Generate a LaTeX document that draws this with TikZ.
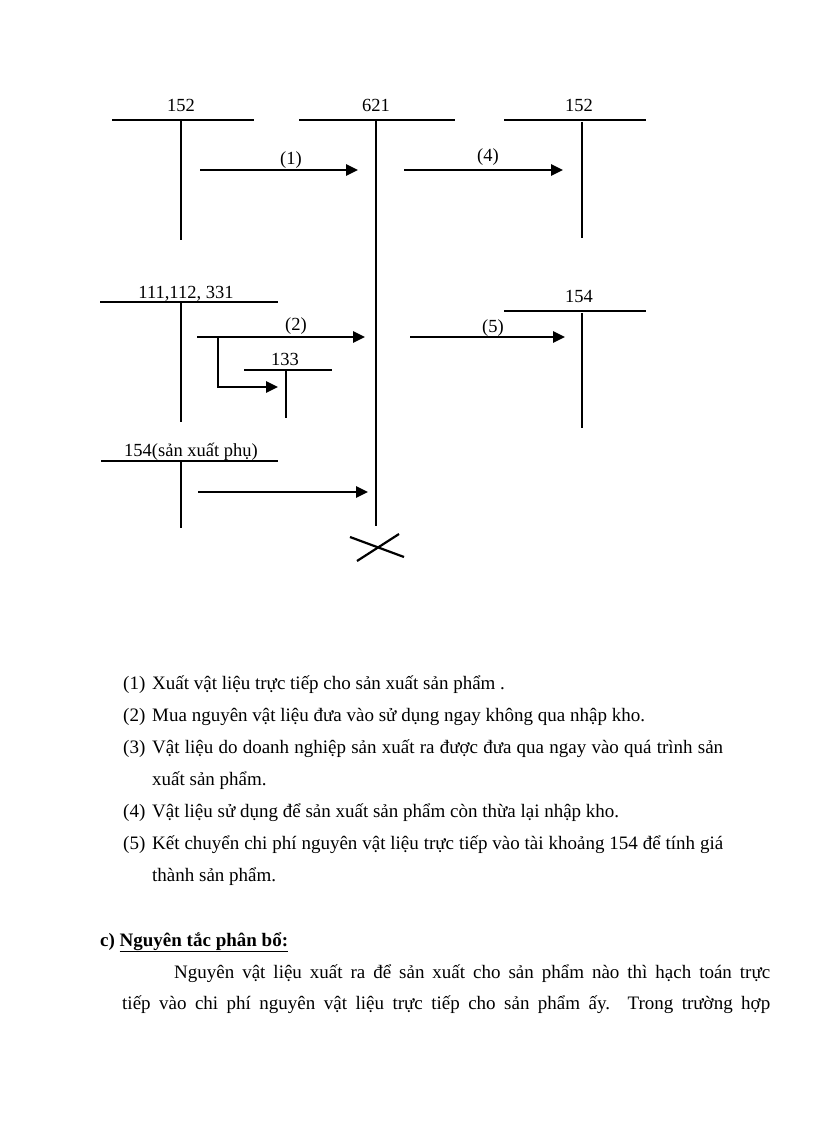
\documentclass[tikz,border=0pt]{standalone}
\usepackage{fontspec}
\setmainfont{Liberation Serif}
\usetikzlibrary{arrows.meta}
\begin{document}
\begin{tikzpicture}[x=1pt,y=-1pt,
  tline/.style={line width=2.6pt},
  flow/.style={line width=2.7pt,-{Triangle[length=12pt,width=11pt]}},
  acclbl/.style={anchor=base,inner sep=0pt,font=\fontsize{18.5}{22}\selectfont},
  body/.style={anchor=base west,inner sep=0pt,font=\fontsize{19}{23}\selectfont},
]
\useasboundingbox[fill=white] (0,0) rectangle (816,1123);

% ---- account 152 (left)
\node[acclbl] (l152) at (181,112) {152};
\coordinate (l152a) at (112,120); \coordinate (l152b) at (254,120);
\coordinate (l152t) at (181,120); \coordinate (l152e) at (181,240);
\draw[tline] (l152a) -- (l152b);
\draw[tline] (l152t) -- (l152e);

% ---- account 621
\node[acclbl] (k621) at (376,112) {621};
\coordinate (k621a) at (299,120); \coordinate (k621b) at (455,120);
\coordinate (k621t) at (376,120); \coordinate (k621e) at (376,526);
\draw[tline] (k621a) -- (k621b);
\draw[tline] (k621t) -- (k621e);

% ---- account 152 (right)
\node[acclbl] (r152) at (579,112) {152};
\coordinate (r152a) at (504,120); \coordinate (r152b) at (646,120);
\coordinate (r152t) at (582,122); \coordinate (r152e) at (582,238);
\draw[tline] (r152a) -- (r152b);
\draw[tline] (r152t) -- (r152e);

% ---- account 111,112,331
\node[acclbl] (cash) at (186,298) {111,112, 331};
\coordinate (casha) at (100,302); \coordinate (cashb) at (278,302);
\coordinate (casht) at (181,302); \coordinate (cashe) at (181,422);
\draw[tline] (casha) -- (cashb);
\draw[tline] (casht) -- (cashe);

% ---- account 133
\node[acclbl] (v133) at (285,365) {133};
\coordinate (v133a) at (244,370); \coordinate (v133b) at (332,370);
\coordinate (v133t) at (286,370); \coordinate (v133e) at (286,418);
\draw[tline] (v133a) -- (v133b);
\draw[tline] (v133t) -- (v133e);

% ---- account 154 (right)
\node[acclbl] (r154) at (579,302) {154};
\coordinate (r154a) at (504,311); \coordinate (r154b) at (646,311);
\coordinate (r154t) at (582,313); \coordinate (r154e) at (582,428);
\draw[tline] (r154a) -- (r154b);
\draw[tline] (r154t) -- (r154e);

% ---- account 154 (san xuat phu)
\node[acclbl] (s154) at (191,456) {154(sản xuất phụ)};
\coordinate (s154a) at (101,461); \coordinate (s154b) at (278,461);
\coordinate (s154t) at (181,461); \coordinate (s154e) at (181,528);
\draw[tline] (s154a) -- (s154b);
\draw[tline] (s154t) -- (s154e);

% ---- flows
\coordinate (f1s) at (200,170); \coordinate (f1e) at (358,170);
\draw[flow] (f1s) -- (f1e);
\node[acclbl] (n1) at (291,165) {(1)};

\coordinate (f4s) at (404,170); \coordinate (f4e) at (563,170);
\draw[flow] (f4s) -- (f4e);
\node[acclbl] (n4) at (488,162) {(4)};

\coordinate (f2s) at (197,337); \coordinate (f2e) at (365,337);
\draw[flow] (f2s) -- (f2e);
\node[acclbl] (n2) at (296,330) {(2)};

\coordinate (f2b) at (218,337); \coordinate (f2c) at (218,387); \coordinate (f2d) at (278,387);
\draw[flow] (f2b) -- (f2c) -- (f2d);

\coordinate (f5s) at (410,337); \coordinate (f5e) at (565,337);
\draw[flow] (f5s) -- (f5e);
\node[acclbl] (n5) at (493,332) {(5)};

\coordinate (f3s) at (198,492); \coordinate (f3e) at (368,492);
\draw[flow] (f3s) -- (f3e);

% ---- closing cross
\coordinate (xa) at (350,537); \coordinate (xb) at (404,557);
\coordinate (xc) at (357,561); \coordinate (xd) at (399,534);
\draw[line width=2.2pt] (xa) -- (xb);
\draw[line width=2.2pt] (xc) -- (xd);

% ---- explanation list
\node[body] (i1) at (123,689) {(1)};
\node[body] (t1) at (152,689) {Xuất vật liệu  trực tiếp cho sản xuất sản phẩm .};
\node[body] (i2) at (123,721) {(2)};
\node[body] (t2) at (152,721) {Mua nguyên vật liệu  đưa vào sử dụng ngay không qua nhập kho.};
\node[body] (i3) at (123,753) {(3)};
\node[body] (t3) at (152,753) {\makebox[571pt][s]{Vật liệu  do doanh nghiệp sản xuất ra được đưa qua ngay vào quá trình sản}};
\node[body] (t3b) at (152,785) {xuất  sản phẩm.};
\node[body] (i4) at (123,817) {(4)};
\node[body] (t4) at (152,817) {Vật liệu  sử dụng để sản xuất  sản phẩm còn thừa lại nhập kho.};
\node[body] (i5) at (123,849) {(5)};
\node[body] (t5) at (152,849) {\makebox[571pt][s]{Kết chuyển chi phí nguyên vật liệu  trực tiếp vào tài khoảng 154 để tính giá}};
\node[body] (t5b) at (152,881) {thành sản phẩm.};

% ---- section c
\node[body,font=\fontsize{19}{23}\selectfont\bfseries] (hc) at (100,946) {c) \underline{Nguyên tắc phân bổ:}};
\node[body] (p1) at (174,978) {\makebox[596pt][s]{Nguyên vật liệu xuất ra để sản xuất cho sản phẩm nào thì hạch toán trực}};
\node[body] (p2) at (122,1009) {\makebox[648pt][s]{tiếp vào chi phí nguyên vật liệu trực tiếp cho sản phẩm ấy. Trong trường hợp}};
\end{tikzpicture}
\end{document}
